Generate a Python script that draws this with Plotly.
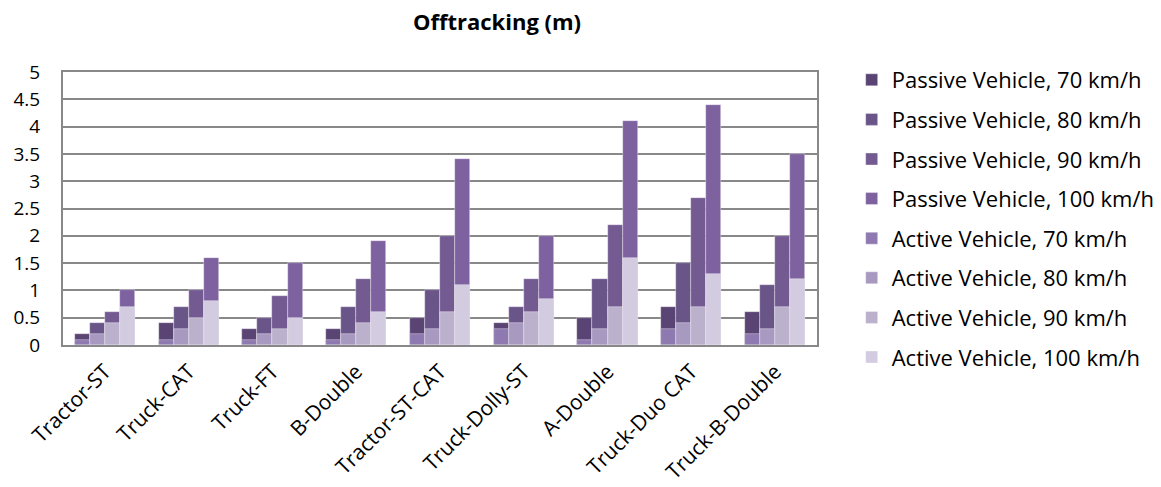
import plotly.graph_objects as go

categories = ["Tractor-ST", "Truck-CAT", "Truck-FT", "B-Double", "Tractor-ST-CAT",
              "Truck-Dolly-ST", "A-Double", "Truck-Duo CAT", "Truck-B-Double"]
speeds = ["70 km/h", "80 km/h", "90 km/h", "100 km/h"]

passive_70 = [0.2, 0.4, 0.3, 0.3, 0.5, 0.4, 0.5, 0.7, 0.6]
passive_80 = [0.4, 0.7, 0.5, 0.7, 1.0, 0.7, 1.2, 1.5, 1.1]
passive_90 = [0.6, 1.0, 0.9, 1.2, 2.0, 1.2, 2.2, 2.7, 2.0]
passive_100 = [1.0, 1.6, 1.5, 1.9, 3.4, 2.0, 4.1, 4.4, 3.5]

active_70 = [0.1, 0.1, 0.1, 0.1, 0.2, 0.3, 0.1, 0.3, 0.2]
active_80 = [0.2, 0.3, 0.2, 0.2, 0.3, 0.4, 0.3, 0.4, 0.3]
active_90 = [0.4, 0.5, 0.3, 0.4, 0.6, 0.6, 0.7, 0.7, 0.7]
active_100 = [0.7, 0.8, 0.5, 0.6, 1.1, 0.85, 1.6, 1.3, 1.2]

passive_colors = ["#5a4474", "#6a5589", "#735a91", "#7e62a0"]
active_colors = ["#8e7ab0", "#a899c1", "#bcb1cd", "#d3cbdf"]

passive = [passive_70, passive_80, passive_90, passive_100]
active = [active_70, active_80, active_90, active_100]

bar_w = 0.18
offsets = [-0.36 + k * bar_w for k in range(4)]

fig = go.Figure()
for k in range(4):
    fig.add_trace(go.Bar(
        x=categories, y=passive[k], name="Passive Vehicle, " + speeds[k],
        marker=dict(color=passive_colors[k], line=dict(color="rgba(255,255,255,0.6)", width=0.6)),
        width=bar_w, offset=offsets[k], legendgroup="p%d" % k,
    ))
for k in range(4):
    fig.add_trace(go.Bar(
        x=categories, y=active[k], name="Active Vehicle, " + speeds[k],
        marker=dict(color=active_colors[k], line=dict(color="rgba(255,255,255,0.6)", width=0.6)),
        width=bar_w, offset=offsets[k], legendgroup="a%d" % k,
    ))

font_family = "'Open Sans', 'Noto Sans', sans-serif"
fig.update_layout(
    barmode="overlay",
    width=1161, height=487,
    margin=dict(l=63, r=344, t=72, b=142, autoexpand=False),
    paper_bgcolor="white", plot_bgcolor="white",
    font=dict(family=font_family, color="#000000"),
    title=dict(text="<b>Offtracking (m)</b>", x=497 / 1161, xanchor="center",
               y=1 - 22 / 487, yanchor="middle", font=dict(size=22, color="#000000")),
    legend=dict(x=1.046, xanchor="left", y=1 - (59 - 72) / 273, yanchor="top",
                font=dict(size=22, color="#000000"), tracegroupgap=8,
                traceorder="grouped", itemwidth=30, maxheight=460),
    xaxis=dict(type="category", showgrid=False, showline=True, linecolor="#888888",
               linewidth=2, mirror=True, tickangle=-45, tickfont=dict(size=21),
               ticks="", range=[-0.5, 8.5], ticklabelstandoff=4),
    yaxis=dict(range=[0, 5], dtick=0.5, showgrid=True, gridcolor="#888888", gridwidth=2,
               showline=True, linecolor="#888888", linewidth=2, mirror=True,
               tickfont=dict(size=19), ticks="", ticklabelstandoff=17,
               zeroline=False),
    bargap=0,
)

fig.write_html("out.html", config={"displayModeBar": False})
with open("out.html", "r", encoding="utf-8") as f:
    html = f.read()
html = html.replace("<head>", "<head><style>html,body{margin:0;padding:0;}</style>", 1)
with open("out.html", "w", encoding="utf-8") as f:
    f.write(html)
